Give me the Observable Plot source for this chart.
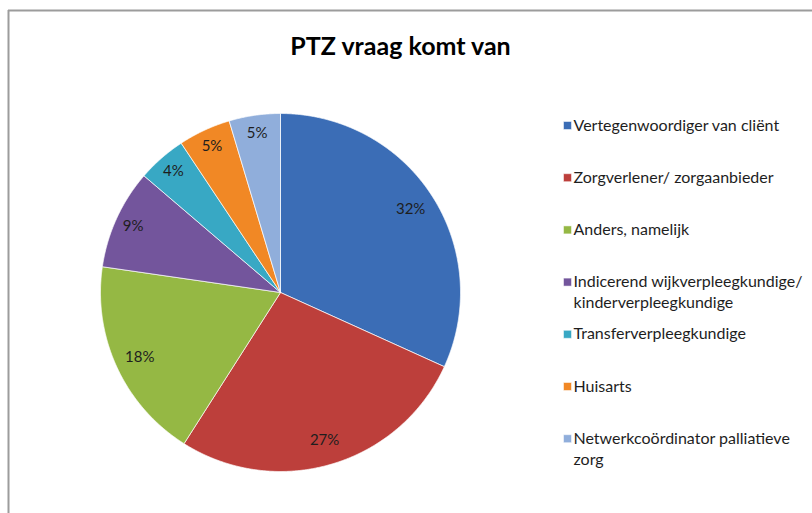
<!DOCTYPE html>
<html><head><meta charset="utf-8">
<script src="https://cdn.jsdelivr.net/npm/d3@7"></script>
<script src="https://cdn.jsdelivr.net/npm/@observablehq/plot@0.6"></script>
<style>html,body{margin:0;padding:0;background:#fff}</style>
</head><body><div id="chart"></div>
<script>
const title = "PTZ vraag komt van";
const categories = [
  "Vertegenwoordiger van cliënt",
  "Zorgverlener/ zorgaanbieder",
  "Anders, namelijk",
  "Indicerend wijkverpleegkundige/ kinderverpleegkundige",
  "Transferverpleegkundige",
  "Huisarts",
  "Netwerkcoördinator palliatieve zorg"
];
const legendLines = [
  ["Vertegenwoordiger van cliënt"],
  ["Zorgverlener/ zorgaanbieder"],
  ["Anders, namelijk"],
  ["Indicerend wijkverpleegkundige/", "kinderverpleegkundige"],
  ["Transferverpleegkundige"],
  ["Huisarts"],
  ["Netwerkcoördinator palliatieve", "zorg"]
];
const values = [31.8, 27.2, 18.3, 9.0, 4.4, 4.7, 4.6];
const valueLabels = ["32%", "27%", "18%", "9%", "4%", "5%", "5%"];
const colors = ["#3b6db6", "#bd3f3b", "#95b844", "#73559c", "#38a8c4", "#f18825", "#90aedb"];

const W = 812, H = 513;
const cx = 280, cy = 292, rx = 180, ry = 179;

const arcs = d3.pie().sort(null).value(d => d)(values);
const slicePts = [];
const labelRows = [];
arcs.forEach((a, i) => {
  const cat = categories[i];
  slicePts.push({cat, x: cx, y: cy});
  const n = Math.max(4, Math.ceil((a.endAngle - a.startAngle) / 0.005));
  for (let k = 0; k <= n; k++) {
    const t = a.startAngle + (a.endAngle - a.startAngle) * k / n;
    slicePts.push({cat, x: cx + rx * Math.sin(t), y: cy - ry * Math.cos(t)});
  }
  slicePts.push({cat, x: cx, y: cy});
  const m = (a.startAngle + a.endAngle) / 2;
  const f = values[i] > 15 ? 0.86 : 0.9;
  labelRows.push({text: valueLabels[i], x: cx + rx * f * Math.sin(m), y: cy - ry * f * Math.cos(m)});
});

const legX = 567, legY0 = 125, legStep = 52.2, lineH = 21;
const legSquares = categories.map((c, i) => ({cat: c, x: legX, y: legY0 + legStep * i}));
const legTexts = [];
legendLines.forEach((lines, i) => lines.forEach((t, j) => legTexts.push({text: t, x: legX + 6, y: legY0 + legStep * i + lineH * j})));

const plot = Plot.plot({
  width: W, height: H,
  margin: 0,
  x: {type: "linear", domain: [0, W], range: [0, W], axis: null},
  y: {type: "linear", domain: [0, H], range: [0, H], axis: null},
  color: {type: "ordinal", domain: categories, range: colors},
  style: {fontFamily: "Lato, 'Open Sans', sans-serif", background: "#fff"},
  marks: [
    Plot.ruleY([10], {x1: 8, x2: W, stroke: "#9c9c9c", strokeWidth: 2}),
    Plot.ruleX([8], {y1: 10, y2: H, stroke: "#9c9c9c", strokeWidth: 2}),
    Plot.line(slicePts, {x: "x", y: "y", z: "cat", fill: "cat", stroke: "#ffffff", strokeOpacity: 0.7, strokeWidth: 1, curve: "linear"}),
    Plot.text(labelRows, {x: "x", y: "y", text: "text", fontSize: 15, fill: "#1e1e1e"}),
    Plot.text([title], {x: 400, y: 46, text: d => d, fontSize: 25, fontWeight: "bold", fill: "#000"}),
    Plot.dot(legSquares, {x: "x", y: "y", fill: "cat", symbol: "square", r: 4.5, stroke: "#ffffff", strokeWidth: 0.5}),
    Plot.text(legTexts, {x: "x", y: "y", text: "text", textAnchor: "start", fontSize: 16, fill: "#1e1e1e"})
  ]
});
document.getElementById("chart").appendChild(plot);
</script>
</body></html>
